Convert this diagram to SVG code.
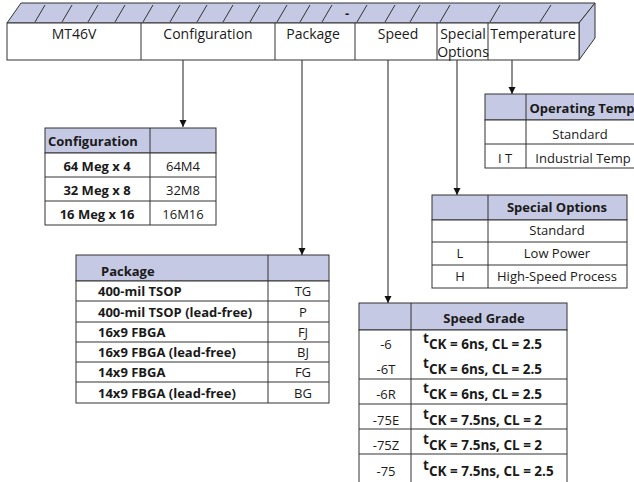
<svg xmlns="http://www.w3.org/2000/svg" width="634" height="482" viewBox="0 0 634 482">
<defs>
<marker id="ah" markerWidth="7" markerHeight="8" refX="7" refY="3.5" orient="auto" markerUnits="userSpaceOnUse">
<path d="M0,0 L7,3.5 L0,7 Z" fill="#111"/>
</marker>
</defs>
<style>
text{font-family:"Open Sans","Liberation Sans",sans-serif;fill:#1a1a1a}
.h{font-size:14px;text-anchor:middle}
.t{font-size:13px}
.s{font-size:13.5px}
.c{text-anchor:middle}
.b{font-weight:bold}
.ln{stroke:#333;stroke-width:1;fill:none}
.hd{fill:#c5c9e3;stroke:#333;stroke-width:1}
.cell{fill:#fff;stroke:#333;stroke-width:1}
.con{stroke:#444;stroke-width:1.2;fill:none;marker-end:url(#ah)}
.sl{stroke:#333;stroke-width:1}
</style>

<g id="header">
<polygon class="hd" points="7,23 21,3 595,3 579,23"/>
<polygon class="hd" points="579,23 595,3 595,38 579,60"/>
<g class="sl">
<line x1="35" y1="22" x2="45" y2="5"/><line x1="62" y1="22" x2="72" y2="5"/><line x1="88" y1="22" x2="98" y2="5"/>
<line x1="115" y1="22" x2="125" y2="5"/><line x1="143" y1="22" x2="153" y2="5"/><line x1="170" y1="22" x2="180" y2="5"/>
<line x1="197" y1="22" x2="207" y2="5"/><line x1="223" y1="22" x2="233" y2="5"/><line x1="250" y1="22" x2="260" y2="5"/>
<line x1="277" y1="22" x2="287" y2="5"/><line x1="300" y1="22" x2="310" y2="5"/><line x1="322" y1="22" x2="332" y2="5"/>
<line x1="357" y1="22" x2="367" y2="5"/><line x1="385" y1="22" x2="395" y2="5"/><line x1="410" y1="22" x2="420" y2="5"/>
<line x1="440" y1="22" x2="450" y2="5"/><line x1="490" y1="22" x2="500" y2="5"/><line x1="540" y1="22" x2="551" y2="5"/>
</g>
<text x="347" y="18" class="t b c">-</text>
<rect x="7" y="23" width="572" height="37" class="cell"/>
<line class="ln" x1="141" y1="23" x2="141" y2="60"/>
<line class="ln" x1="275" y1="23" x2="275" y2="60"/>
<line class="ln" x1="355" y1="23" x2="355" y2="60"/>
<line class="ln" x1="437" y1="23" x2="437" y2="60"/>
<line class="ln" x1="488" y1="23" x2="488" y2="60"/>
<text x="74" y="39" class="h">MT46V</text>
<text x="208" y="39" class="h">Configuration</text>
<text x="313" y="39" class="h">Package</text>
<text x="398" y="39" class="h">Speed</text>
<text x="463" y="39" class="h">Special</text>
<text x="463" y="57" class="h">Options</text>
<text x="533" y="39" class="h">Temperature</text>
</g>

<g id="connectors">
<line class="con" x1="183" y1="60" x2="183" y2="127"/>
<line class="con" x1="302" y1="60" x2="302" y2="255"/>
<line class="con" x1="388" y1="60" x2="388" y2="303"/>
<line class="con" x1="457" y1="60" x2="457" y2="195"/>
<line class="con" x1="512" y1="60" x2="512" y2="94"/>
</g>

<g id="temperature-table">
<rect x="485" y="94" width="150" height="26" class="hd"/>
<rect x="485" y="120" width="150" height="48" class="cell"/>
<line class="ln" x1="485" y1="144" x2="635" y2="144"/>
<line class="ln" x1="526" y1="94" x2="526" y2="168"/>
<text x="582" y="113" class="t b c">Operating Temp</text>
<text x="580" y="139" class="t c">Standard</text>
<text x="505" y="163" class="t c">I T</text>
<text x="583" y="163" class="t c">Industrial Temp</text>
</g>

<g id="special-options-table">
<rect x="432" y="195" width="195" height="25" class="hd"/>
<rect x="432" y="220" width="195" height="68" class="cell"/>
<line class="ln" x1="432" y1="242" x2="627" y2="242"/>
<line class="ln" x1="432" y1="265" x2="627" y2="265"/>
<line class="ln" x1="488" y1="195" x2="488" y2="288"/>
<text x="557" y="212" class="t b c">Special Options</text>
<text x="557" y="235" class="t c">Standard</text>
<text x="460" y="258" class="t c">L</text>
<text x="557" y="258" class="t c">Low Power</text>
<text x="460" y="281" class="t c">H</text>
<text x="557" y="281" class="t c">High-Speed Process</text>
</g>

<g id="configuration-table">
<rect x="45" y="128" width="171" height="25" class="hd"/>
<rect x="45" y="153" width="171" height="72" class="cell"/>
<line class="ln" x1="45" y1="177" x2="216" y2="177"/>
<line class="ln" x1="45" y1="201" x2="216" y2="201"/>
<line class="ln" x1="150" y1="128" x2="150" y2="225"/>
<text x="48" y="146" class="t b">Configuration</text>
<text x="97" y="171" class="t b c">64 Meg x 4</text>
<text x="183" y="171" class="t c">64M4</text>
<text x="97" y="195" class="t b c">32 Meg x 8</text>
<text x="183" y="195" class="t c">32M8</text>
<text x="97" y="219" class="t b c">16 Meg x 16</text>
<text x="183" y="219" class="t c">16M16</text>
</g>

<g id="package-table">
<rect x="76" y="255" width="253" height="26" class="hd"/>
<rect x="76" y="281" width="253" height="122" class="cell"/>
<line class="ln" x1="76" y1="301" x2="329" y2="301"/>
<line class="ln" x1="76" y1="322" x2="329" y2="322"/>
<line class="ln" x1="76" y1="342" x2="329" y2="342"/>
<line class="ln" x1="76" y1="362" x2="329" y2="362"/>
<line class="ln" x1="76" y1="382" x2="329" y2="382"/>
<line class="ln" x1="268" y1="255" x2="268" y2="403"/>
<text x="101" y="276" class="t b">Package</text>
<text x="98" y="296" class="t b">400-mil TSOP</text>
<text x="303" y="296" class="t c">TG</text>
<text x="98" y="317" class="t b">400-mil TSOP (lead-free)</text>
<text x="303" y="317" class="t c">P</text>
<text x="98" y="337" class="t b">16x9 FBGA</text>
<text x="303" y="337" class="t c">FJ</text>
<text x="98" y="357" class="t b">16x9 FBGA (lead-free)</text>
<text x="303" y="357" class="t c">BJ</text>
<text x="98" y="377" class="t b">14x9 FBGA</text>
<text x="303" y="377" class="t c">FG</text>
<text x="98" y="398" class="t b">14x9 FBGA (lead-free)</text>
<text x="303" y="398" class="t c">BG</text>
</g>

<g id="speed-table">
<rect x="359" y="303" width="208" height="27" class="hd"/>
<rect x="359" y="330" width="208" height="160" class="cell"/>
<line class="ln" x1="359" y1="379" x2="567" y2="379"/>
<line class="ln" x1="359" y1="404" x2="567" y2="404"/>
<line class="ln" x1="359" y1="429" x2="567" y2="429"/>
<line class="ln" x1="359" y1="454" x2="567" y2="454"/>
<line class="ln" x1="411" y1="303" x2="411" y2="490"/>
<text x="484" y="323" class="t b c">Speed Grade</text>
<text x="386" y="349" class="t c">-6</text>
<text x="386" y="374" class="t c">-6T</text>
<text x="386" y="399" class="t c">-6R</text>
<text x="386" y="425" class="t c">-75E</text>
<text x="386" y="450" class="t c">-75Z</text>
<text x="386" y="476" class="t c">-75</text>
<text x="423" y="349" class="s b"><tspan dy="-6">t</tspan><tspan dy="6">CK = 6ns, CL = 2.5</tspan></text>
<text x="423" y="374" class="s b"><tspan dy="-6">t</tspan><tspan dy="6">CK = 6ns, CL = 2.5</tspan></text>
<text x="423" y="399" class="s b"><tspan dy="-6">t</tspan><tspan dy="6">CK = 6ns, CL = 2.5</tspan></text>
<text x="423" y="425" class="s b"><tspan dy="-6">t</tspan><tspan dy="6">CK = 7.5ns, CL = 2</tspan></text>
<text x="423" y="450" class="s b"><tspan dy="-6">t</tspan><tspan dy="6">CK = 7.5ns, CL = 2</tspan></text>
<text x="423" y="476" class="s b"><tspan dy="-6">t</tspan><tspan dy="6">CK = 7.5ns, CL = 2.5</tspan></text>
</g>
</svg>
